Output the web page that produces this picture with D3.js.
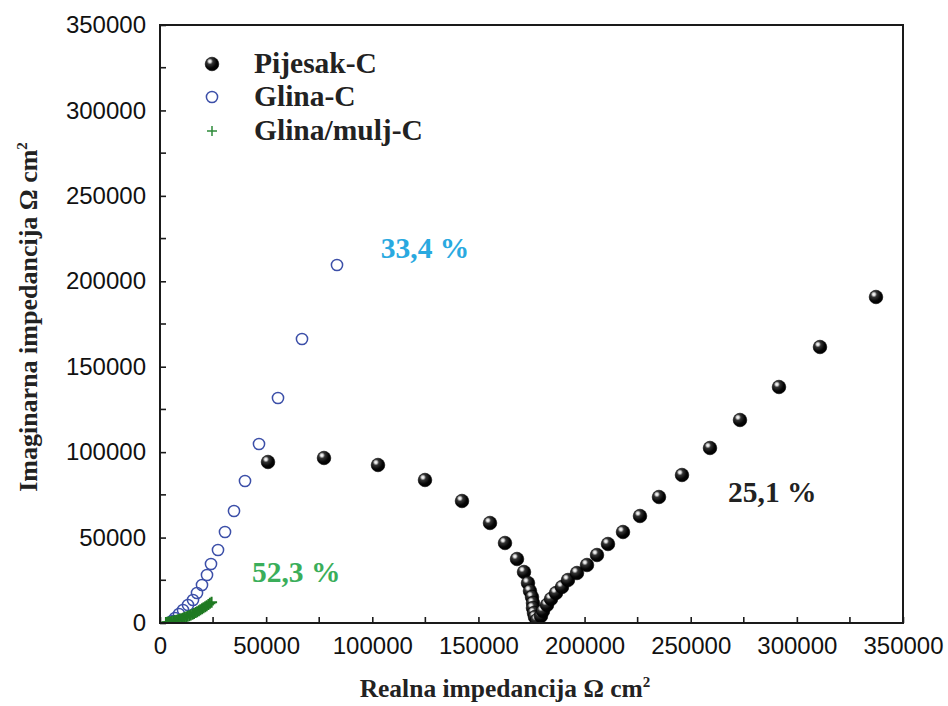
<!DOCTYPE html>
<html>
<head>
<meta charset="utf-8">
<script src="https://cdn.jsdelivr.net/npm/d3@7"></script>
<style>
  html, body { margin: 0; padding: 0; background: #fff; }
  svg { display: block; }
</style>
</head>
<body>
<svg id="chart" width="948" height="706"></svg>
<script>
// ---- data ----
const pijesakX = [50875, 77254, 102691, 124831, 142261, 155450, 162516, 168169, 171466, 173350, 174292, 175235, 175706, 175706, 176177, 176648, 177590,
  179474, 180416, 182300, 184184, 186540, 189366, 192192, 196432, 201143, 205853, 211035, 218101, 226109, 235059, 245893, 259083, 273215, 291586, 310900, 337279];
const pijesakY = [94233, 96575, 92477, 83698, 71406, 58530, 46824, 37459, 29850, 23412, 18730, 15218, 11706, 8780, 5853, 3512, 1756,
  4097, 7024, 10535, 14047, 17559, 21071, 25168, 29265, 33947, 39800, 46239, 53262, 62627, 73748, 86624, 102428, 118816, 138131, 161543, 190808];

const glinaX = [83378, 66891, 55585, 46635, 40040, 34858, 30619, 27321, 24024, 22140, 19784, 17429, 15545, 13190, 10834, 8950, 7066, 5653];
const glinaY = [209537, 166225, 131693, 104769, 83113, 65554, 53262, 42727, 34533, 28094, 22242, 17559, 13462, 10535, 7609, 5267, 2927, 1171];

const muljX = [2800, 3500, 4200, 4900, 5600, 6300, 7000, 7800, 8500, 9300, 10000, 10800, 11500, 12300, 13000, 13800, 14500, 15300, 16000, 16800, 17500, 18300, 19000, 19800, 20500, 21300, 22000, 22800, 23500, 24300];
const muljY = [300, 450, 600, 750, 950, 1150, 1400, 1650, 1900, 2200, 2500, 2800, 3150, 3500, 3900, 4300, 4700, 5150, 5600, 6100, 6600, 7100, 7700, 8300, 8900, 9500, 10100, 10800, 11500, 12200];

const xTicks = [0, 50000, 100000, 150000, 200000, 250000, 300000, 350000];
const yTicks = [0, 50000, 100000, 150000, 200000, 250000, 300000, 350000];
const minorTicks = [25000, 75000, 125000, 175000, 225000, 275000, 325000];

const seriesNames = ["Pijesak-C", "Glina-C", "Glina/mulj-C"];
const annoText = ["33,4 %", "52,3 %", "25,1 %"];
const annoX = [104000, 43300, 267600];
const annoY = [213600, 24000, 70800];
const annoColor = ["#29a9e0", "#3aae5a", "#222222"];

// ---- layout ----
const svg = d3.select("#chart");
const L = 160, R = 903, T = 25, B = 623;
const x = d3.scaleLinear().domain([0, 350000]).range([L, R]);
const y = d3.scaleLinear().domain([0, 350000]).range([B, T]);

// gradient for spheres
const defs = svg.append("defs");
const grad = defs.append("radialGradient").attr("id", "ball")
  .attr("cx", "0.36").attr("cy", "0.32").attr("r", "0.7")
  .attr("fx", "0.34").attr("fy", "0.3");
grad.append("stop").attr("offset", "0").attr("stop-color", "#ffffff");
grad.append("stop").attr("offset", "0.14").attr("stop-color", "#d8d8d8");
grad.append("stop").attr("offset", "0.32").attr("stop-color", "#333333");
grad.append("stop").attr("offset", "0.7").attr("stop-color", "#050505");
grad.append("stop").attr("offset", "1").attr("stop-color", "#000000");

// frame
svg.append("rect").attr("x", L).attr("y", T).attr("width", R - L).attr("height", B - T)
  .attr("fill", "none").attr("stroke", "#1a1a1a").attr("stroke-width", 2);

// axes
const fmt = d3.format("d");
const xAxis = svg.append("g").attr("transform", `translate(0,${B})`)
  .call(d3.axisBottom(x).tickValues(xTicks).tickFormat(fmt).tickSize(-6).tickPadding(14));
const yAxis = svg.append("g").attr("transform", `translate(${L},0)`)
  .call(d3.axisLeft(y).tickValues(yTicks).tickFormat(fmt).tickSize(-6).tickPadding(14));
[xAxis, yAxis].forEach(g => {
  g.select(".domain").remove();
  g.selectAll(".tick line").attr("stroke", "#1a1a1a").attr("stroke-width", 1.6);
  g.selectAll(".tick text").attr("font-family", "'Liberation Sans', Arial, sans-serif")
    .attr("font-size", 24).attr("fill", "#111");
});
xAxis.selectAll(".tick text").attr("dy", "0.71em");
// minor ticks
svg.append("g").selectAll("line").data(minorTicks).join("line")
  .attr("x1", d => x(d)).attr("x2", d => x(d)).attr("y1", B).attr("y2", B - 6)
  .attr("stroke", "#1a1a1a").attr("stroke-width", 1.6);
svg.append("g").selectAll("line").data(minorTicks).join("line")
  .attr("x1", L).attr("x2", L + 6).attr("y1", d => y(d)).attr("y2", d => y(d))
  .attr("stroke", "#1a1a1a").attr("stroke-width", 1.6);

// axis titles
const serif = "'Liberation Serif', 'Times New Roman', serif";
const xt = svg.append("text").attr("x", 505).attr("y", 697).attr("text-anchor", "middle")
  .attr("font-family", serif).attr("font-weight", "bold").attr("font-size", 25.5).attr("fill", "#222");
xt.append("tspan").text("Realna impedancija Ω cm");
xt.append("tspan").attr("font-size", 15).attr("dy", -10).text("2");

const yt = svg.append("text").attr("transform", "translate(37,317) rotate(-90)").attr("text-anchor", "middle")
  .attr("font-family", serif).attr("font-weight", "bold").attr("font-size", 26).attr("fill", "#222");
yt.append("tspan").text("Imaginarna impedancija Ω cm");
yt.append("tspan").attr("font-size", 15).attr("dy", -10).text("2");

const plusPath = s => `M${-s},0H${s}M0,${-s}V${s}`;
const clip = defs.append("clipPath").attr("id", "plotclip");
clip.append("rect").attr("x", L + 1).attr("y", T).attr("width", R - L).attr("height", B - T - 1);

const plot = svg.append("g").attr("clip-path", "url(#plotclip)");

// Glina-C (open blue circles)
plot.append("g").selectAll("circle").data(glinaX.map((d, i) => [d, glinaY[i]])).join("circle")
  .attr("cx", d => x(d[0])).attr("cy", d => y(d[1])).attr("r", 5.6)
  .attr("fill", "none").attr("stroke", "#3c4fa8").attr("stroke-width", 1.5);

// Glina/mulj-C (green plus)
plot.append("g").selectAll("path").data(muljX.map((d, i) => [d, muljY[i]])).join("path")
  .attr("transform", d => `translate(${x(d[0])},${y(d[1])})`)
  .attr("d", plusPath(5.5)).attr("stroke", "#1f7a22").attr("stroke-width", 2).attr("fill", "none");

// Pijesak-C (black spheres)
plot.append("g").selectAll("circle").data(pijesakX.map((d, i) => [d, pijesakY[i]])).join("circle")
  .attr("cx", d => x(d[0])).attr("cy", d => y(d[1])).attr("r", 6.8)
  .attr("fill", "url(#ball)").attr("stroke", "#000").attr("stroke-width", 0.6);

// legend
const lg = svg.append("g");
const lx = 212, ly = [64, 97, 131], tx = 254;
lg.append("circle").attr("cx", lx).attr("cy", ly[0]).attr("r", 6.8).attr("fill", "url(#ball)").attr("stroke", "#000").attr("stroke-width", 0.6);
lg.append("circle").attr("cx", lx).attr("cy", ly[1]).attr("r", 5.6).attr("fill", "none").attr("stroke", "#3c4fa8").attr("stroke-width", 1.5);
lg.append("path").attr("transform", `translate(${lx},${ly[2]})`).attr("d", plusPath(5))
  .attr("stroke", "#2e8b3a").attr("stroke-width", 1.5);
lg.selectAll("text").data(seriesNames).join("text")
  .attr("x", tx).attr("y", (d, i) => ly[i] + 9)
  .attr("font-family", serif).attr("font-weight", "bold").attr("font-size", 29.5).attr("fill", "#222")
  .text(d => d);

// annotations
svg.append("g").selectAll("text").data(annoText).join("text")
  .attr("x", (d, i) => x(annoX[i])).attr("y", (d, i) => y(annoY[i]))
  .attr("font-family", serif).attr("font-weight", "bold").attr("font-size", 29.5)
  .attr("fill", (d, i) => annoColor[i]).text(d => d);
</script>
</body>
</html>
